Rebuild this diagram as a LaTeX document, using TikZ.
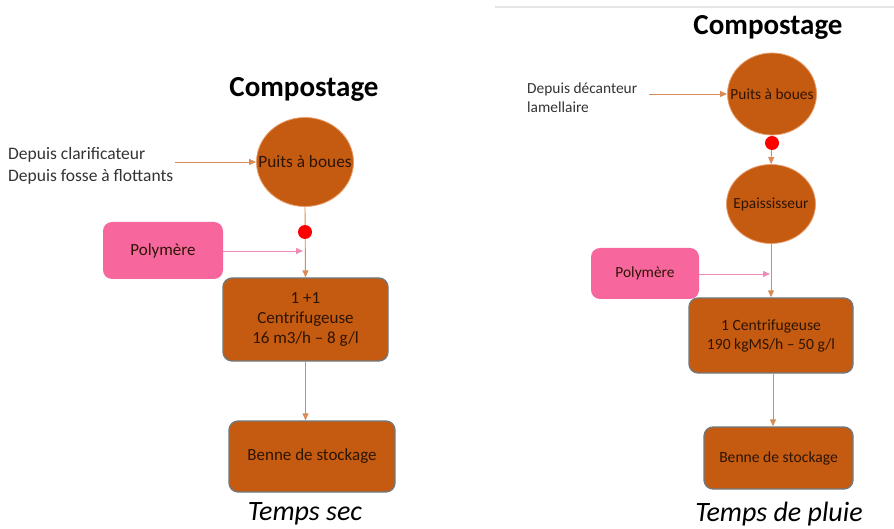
\documentclass[tikz,border=0pt]{standalone}
\usepackage{fontspec}
\setmainfont{Carlito}
\usetikzlibrary{arrows.meta,shapes.geometric}
\definecolor{sludge}{HTML}{C55A11}
\definecolor{edgegray}{HTML}{6F7A80}
\definecolor{wellrim}{HTML}{E8A070}
\definecolor{flow}{HTML}{D98B55}
\definecolor{poly}{HTML}{F7679E}
\definecolor{polyflow}{HTML}{F08CB8}
\definecolor{ink}{HTML}{2E1503}
\definecolor{note}{HTML}{333333}
\begin{document}
\begin{tikzpicture}[x=1pt,y=-1pt,
  title/.style={font=\fontsize{29}{33}\selectfont\bfseries, text=black},
  caption/.style={font=\fontsize{28}{32}\selectfont\itshape, text=black, inner sep=0pt},
  well/.style={ellipse, fill=sludge, draw=wellrim, line width=0.8pt, inner sep=0pt},
  unit/.style={rectangle, rounded corners=9pt, fill=sludge, draw=edgegray, line width=1.3pt, inner sep=0pt, align=center, text=ink},
  dosing/.style={rectangle, rounded corners=9pt, fill=poly, inner sep=0pt, text=ink},
  valve/.style={circle, fill=red, inner sep=0pt, minimum size=14pt},
  source/.style={align=left, anchor=west, text=note, inner sep=0pt},
  flowline/.style={draw=flow, line width=0.9pt, -{Triangle[length=7pt,width=6pt]}},
  polyline/.style={draw=polyflow, line width=0.9pt, -{Triangle[length=7pt,width=6pt]}}
]
\useasboundingbox (0,0) rectangle (894,529);

% ---------- dry weather line ----------
\node[title] (titleL) at (304,89) {Compostage};
\node[well, minimum width=97pt, minimum height=89pt,
      label={[text=ink, font=\fontsize{17.3}{20}\selectfont]center:Puits à boues}] (wellL) at (305,162) {};
\node[source, font=\fontsize{17.5}{22}\selectfont] (srcL) at (8,166) {Depuis clarificateur\\Depuis fosse à flottants};
\node[dosing, minimum width=120pt, minimum height=57pt, font=\fontsize{17}{20}\selectfont] (polyL) at (163,250.5) {Polymère};
\node[unit, minimum width=165pt, minimum height=83pt, font=\fontsize{17}{20}\selectfont] (centL) at (305.5,319.5) {1 +1\\Centrifugeuse\\16 m3/h -- 8 g/l};
\node[unit, minimum width=166pt, minimum height=71pt, font=\fontsize{17}{20}\selectfont] (benneL) at (312,456.5) {Benne de stockage};
\node[caption] (capL) at (305,514) {Temps sec};
\coordinate (mixL) at (305,251);

\draw[flowline] ([xshift=2pt]srcL.east |- wellL.west) -- (wellL.west);
\draw[flowline] (wellL.south) -- (centL.north);
\draw[polyline] (polyL.east |- mixL) -- ([xshift=-2pt]mixL);
\draw[flowline] (centL.south) -- (centL.south |- benneL.north);
\node[valve] (dotL) at (305,232) {};

% ---------- rainy weather line ----------
\draw[black!10, line width=1.5pt] (495,7) -- (894,7);
\node[title] (titleR) at (768,27) {Compostage};
\node[well, minimum width=89pt, minimum height=82pt,
      label={[text=ink, font=\fontsize{15.4}{18}\selectfont]center:Puits à boues}] (wellR) at (772,94) {};
\node[source, font=\fontsize{15.4}{19}\selectfont] (srcR) at (527,97.5) {Depuis décanteur\\lamellaire};
\node[well, minimum width=89pt, minimum height=79pt,
      label={[text=ink, font=\fontsize{15.4}{18}\selectfont]center:Epaississeur}] (thickR) at (771,204) {};
\node[dosing, minimum width=108pt, minimum height=51pt, font=\fontsize{15.4}{18}\selectfont] (polyR) at (645,273.5) {Polymère};
\node[unit, minimum width=164pt, minimum height=75pt, font=\fontsize{15.6}{19}\selectfont] (centR) at (771,335.5) {1 Centrifugeuse\\190 kgMS/h -- 50 g/l};
\node[unit, minimum width=149pt, minimum height=62pt, font=\fontsize{15.6}{18}\selectfont] (benneR) at (778.5,458) {Benne de stockage};
\node[caption] (capR) at (779,514) {Temps de pluie};
\coordinate (mixR) at (772,274);

\draw[flowline] ([xshift=12pt]srcR.east |- wellR.west) -- (wellR.west);
\draw[flowline] (wellR.south) -- (thickR.north);
\draw[flowline] (thickR.south) -- (thickR.south |- centR.north);
\draw[polyline] (polyR.east |- mixR) -- ([xshift=-2pt]mixR);
\draw[flowline] ([xshift=2pt]centR.south) -- ([xshift=2pt]centR.south |- benneR.north);
\node[valve] (dotR) at (772,143) {};
\end{tikzpicture}
\end{document}
